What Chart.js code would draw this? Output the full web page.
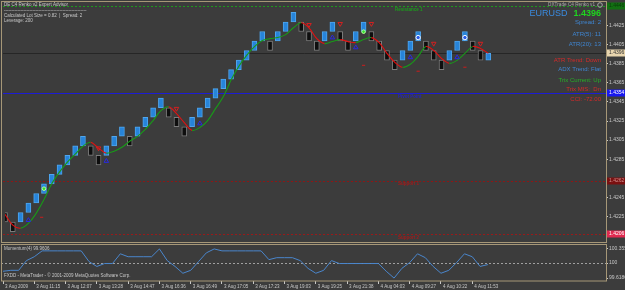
<!DOCTYPE html>
<html>
<head>
<meta charset="utf-8">
<title>EURUSD Renko</title>
<script src="https://cdn.jsdelivr.net/npm/chart.js@4.4.1/dist/chart.umd.min.js"></script>
<style>
  html, body { margin: 0; padding: 0; background: #3c3c3c; overflow: hidden; }
  #wrap { position: relative; width: 625px; height: 290px; }
  canvas { position: absolute; left: 0; }
  #priceChart { top: 0; }
  #momChart { top: 244px; }
</style>
</head>
<body>
<div id="wrap">
  <canvas id="priceChart" width="625" height="244"></canvas>
  <canvas id="momChart" width="625" height="46"></canvas>
</div>
<script>
// renko bricks (10 pip box)
const brickOpen = [1.4229, 1.4219, 1.4219, 1.4229, 1.4239, 1.4249, 1.4259, 1.4269, 1.4279, 1.4289,
  1.4299, 1.4299, 1.4289, 1.4289, 1.4299, 1.4309, 1.4309, 1.4309, 1.4319, 1.4329,
  1.4339, 1.4339, 1.4329, 1.4319, 1.4319, 1.4329, 1.4339, 1.4349, 1.4359, 1.4369,
  1.4379, 1.4389, 1.4399, 1.4409, 1.4409, 1.4409, 1.4419, 1.4429, 1.4429, 1.4419,
  1.4409, 1.4409, 1.4419, 1.4419, 1.4409, 1.4409, 1.4419, 1.4419, 1.4409, 1.4399,
  1.4389, 1.4389, 1.4399, 1.4409, 1.4409, 1.4399, 1.4389, 1.4389, 1.4399, 1.4409,
  1.4409, 1.4399, 1.4389];
const brickClose = [1.4219, 1.4209, 1.4229, 1.4239, 1.4249, 1.4259, 1.4269, 1.4279, 1.4289, 1.4299,
  1.4309, 1.4289, 1.4279, 1.4299, 1.4309, 1.4319, 1.4299, 1.4319, 1.4329, 1.4339,
  1.4349, 1.4329, 1.4319, 1.4309, 1.4329, 1.4339, 1.4349, 1.4359, 1.4369, 1.4379,
  1.4389, 1.4399, 1.4409, 1.4419, 1.4399, 1.4419, 1.4429, 1.4439, 1.4419, 1.4409,
  1.4399, 1.4419, 1.4429, 1.4409, 1.4399, 1.4419, 1.4429, 1.4409, 1.4399, 1.4389,
  1.4379, 1.4399, 1.4409, 1.4419, 1.4399, 1.4389, 1.4379, 1.4399, 1.4409, 1.4419,
  1.4399, 1.4389, 1.4396];
// trend line through the bricks (green up / red down)
const maLine = [1.42271, 1.42157, 1.42126, 1.42177, 1.42281, 1.42426, 1.42592, 1.42716, 1.42820, 1.42903,
  1.42986, 1.43027, 1.42965, 1.42913, 1.42934, 1.42975, 1.43038, 1.43089, 1.43162, 1.43255,
  1.43359, 1.43400, 1.43328, 1.43234, 1.43152, 1.43183, 1.43255, 1.43380, 1.43504, 1.43680,
  1.43825, 1.43939, 1.44032, 1.44095, 1.44115, 1.44126, 1.44157, 1.44229, 1.44281, 1.44229,
  1.44115, 1.44063, 1.44084, 1.44105, 1.44084, 1.44074, 1.44105, 1.44126, 1.44074, 1.43960,
  1.43867, 1.43815, 1.43846, 1.43929, 1.44032, 1.43991, 1.43908, 1.43856, 1.43887, 1.43960,
  1.44032, 1.44012, 1.43960];
// Momentum(4)
const momentum = [99.791, 99.815, 99.815, 100.061, 100.159, 100.307, 100.307, 100.307, 100.307, 100.307,
  100.307, 100.036, 99.913, 99.987, 99.987, 100.233, 100.159, 100.159, 100.159, 100.159,
  100.3558, 100.061, 99.913, 99.741, 99.815, 100.036, 100.257, 100.3558, 100.307, 100.307,
  100.307, 100.307, 100.307, 100.307, 100.085, 100.135, 100.135, 100.135, 100.061, 99.864,
  99.741, 99.815, 100.061, 99.987, 99.987, 99.987, 99.987, 99.987, 99.987, 99.791,
  99.6186, 99.864, 100.012, 100.233, 100.135, 99.913, 99.741, 99.815, 100.012, 100.233,
  100.159, 99.913, 99.9606];

const timeLabels = ['3 Aug 2009', '3 Aug 11:15', '3 Aug 12:07', '3 Aug 13:28', '3 Aug 14:47', '3 Aug 16:36',
  '3 Aug 16:49', '3 Aug 17:05', '3 Aug 17:23', '3 Aug 19:03', '3 Aug 19:25', '3 Aug 21:38',
  '4 Aug 04:03', '4 Aug 09:27', '4 Aug 10:22', '4 Aug 11:53'];
const priceTicks = [1.4425, 1.4405, 1.4385, 1.4365, 1.4345, 1.4325, 1.4305, 1.4285, 1.4245, 1.4225];
const momTicks = [100.3558, 100, 99.6186];
const momLevel = 100;

const levelNames = ['Resistance 1', 'Pivot Point', 'Support 1', 'Support 2'];
const levelValues = [1.4446, 1.4354, 1.4262, 1.4206];
const lastPrice = 1.4396;

// signal markers
const upArrowIdx = [3, 13, 25, 42, 45, 52, 58];
const upArrowPrice = [1.42209, 1.42830, 1.43224, 1.44126, 1.44022, 1.43918, 1.43918];
const downArrowIdx = [12, 22, 39, 43, 47, 55, 61];
const downArrowPrice = [1.42965, 1.43380, 1.44260, 1.44271, 1.44271, 1.44063, 1.44063];
const dotIdx = [5, 46];
const dotPrice = [1.42540, 1.44188];
const crossIdx = [53, 59];
const crossPrice = [1.44126, 1.44126];
const dashIdx = [4.7, 46, 53, 59];
const dashPrice = [1.42240, 1.43835, 1.43773, 1.43815];

const FONT = 'Liberation Sans';
const FRAME = '#a69777';
const TXT = '#c8c8c8';

const pts = (xs, ys) => xs.map((x, i) => ({ x: x, y: ys[i] }));

const levelStyle = [
  { line: '#1d9a1d', dash: [2, 2], text: '#1d9a1d', tag: '#127012', tagText: '#0b3a0b', dy: 4 },
  { line: '#1c1cd6', dash: [], text: '#2626b8', tag: '#1818f0', tagText: '#ffffff', dy: 3.5 },
  { line: '#8e1616', dash: [2, 2], text: '#a01c1c', tag: '#7a1010', tagText: '#d08c8c', dy: 3 },
  { line: '#9a1a1a', dash: [2, 2], text: '#a01c1c', tag: '#e02a50', tagText: '#ffffff', dy: 3 }
];

function tag(ctx, y, value, bg, fg) {
  ctx.fillStyle = bg;
  ctx.fillRect(607, Math.round(y) - 3.5, 18, 7);
  ctx.fillStyle = fg;
  ctx.font = '5px "' + FONT + '"';
  ctx.textAlign = 'left';
  ctx.textBaseline = 'middle';
  ctx.fillText(value.toFixed(4), 609, Math.round(y));
}

const priceOverlay = {
  id: 'priceOverlay',
  beforeDatasetsDraw(chart) {
    const { ctx, chartArea: a, scales: { y } } = chart;
    ctx.save();
    ctx.lineWidth = 1;
    // bid line
    let py = Math.round(y.getPixelForValue(lastPrice)) + 0.5;
    ctx.strokeStyle = '#262626';
    ctx.beginPath(); ctx.moveTo(a.left - 2, py); ctx.lineTo(a.right, py); ctx.stroke();
    levelValues.forEach((v, k) => {
      const s = levelStyle[k];
      py = Math.round(y.getPixelForValue(v)) + 0.5;
      ctx.strokeStyle = s.line;
      ctx.setLineDash(s.dash);
      ctx.beginPath(); ctx.moveTo(a.left - 2, py); ctx.lineTo(a.right, py); ctx.stroke();
    });
    ctx.setLineDash([]);
    ctx.font = 'bold 4.5px "' + FONT + '"';
    ctx.textAlign = 'left';
    ctx.textBaseline = 'middle';
    levelValues.forEach((v, k) => {
      const s = levelStyle[k];
      ctx.fillStyle = s.text;
      ctx.fillText(levelNames[k], k === 0 ? 395 : 398, y.getPixelForValue(v) + s.dy);
    });
    ctx.restore();
  },
  afterDraw(chart) {
    const { ctx, chartArea: a, scales: { y } } = chart;
    ctx.save();
    // frame
    ctx.strokeStyle = FRAME;
    ctx.lineWidth = 1;
    ctx.strokeRect(1.5, 1.5, a.right - 1, 241);

    // expert advisor comment, top left
    ctx.fillStyle = TXT;
    ctx.font = '4.5px "' + FONT + '"';
    ctx.textAlign = 'left';
    ctx.textBaseline = 'middle';
    ctx.fillText('DE C4 Renko v2 Expert Advisor', 4, 4.5);
    ctx.fillText('-------------------------------------------------------', 4, 10.5);
    ctx.fillText('Calculated Lot Size = 0.82  |  Spread: 2', 4, 15.7);
    ctx.fillText('Leverage: 200', 4, 21);

    // info panel, top right
    ctx.textAlign = 'right';
    ctx.fillStyle = '#a8a8a8';
    ctx.font = '4.7px "' + FONT + '"';
    ctx.fillText('DXTrade C4 Renko v1', 595, 5);
    ctx.strokeStyle = '#a8a8a8';
    ctx.beginPath(); ctx.arc(600, 5, 2.3, 0, Math.PI * 2); ctx.stroke();

    ctx.font = 'bold 9px "' + FONT + '"';
    const priceTxt = lastPrice.toFixed(4);
    ctx.fillStyle = '#1fd41f';
    ctx.fillText(priceTxt, 601, 13.5);
    const w = ctx.measureText(priceTxt).width;
    ctx.font = '9px "' + FONT + '"';
    ctx.fillStyle = '#3a8be0';
    ctx.fillText('EURUSD', 601 - w - 6, 13.5);

    const info = [
      ['Spread: 2', '#3f86d2', 22],
      ['ATR(5): 11', '#3f86d2', 34.3],
      ['ATR(20): 13', '#3f86d2', 44.3],
      ['ATR Trend: Down', '#d42a2a', 60],
      ['ADX Trend: Flat', '#3f86d2', 69.3],
      ['Trix Current: Up', '#26b026', 80],
      ['Trix MIS:  Dn', '#d42a2a', 89.3],
      ['CCI: -72.00', '#d42a2a', 99]
    ];
    ctx.font = '6px "' + FONT + '"';
    info.forEach(r => { ctx.fillStyle = r[1]; ctx.fillText(r[0], 601, r[2]); });

    // price tags on the axis
    levelValues.forEach((v, k) => {
      tag(ctx, y.getPixelForValue(v), v, levelStyle[k].tag, levelStyle[k].tagText);
    });
    tag(ctx, y.getPixelForValue(lastPrice), lastPrice, '#e8d5ae', '#333333');
    ctx.restore();
  }
};

new Chart(document.getElementById('priceChart'), {
  type: 'bar',
  data: {
    datasets: [
      {
        type: 'line', label: 'up', data: pts(upArrowIdx, upArrowPrice), showLine: false,
        pointStyle: 'triangle', pointRadius: 2.6, borderColor: '#2a2ae0', borderWidth: 1,
        backgroundColor: 'rgba(0,0,0,0)', order: 0
      },
      {
        type: 'line', label: 'down', data: pts(downArrowIdx, downArrowPrice), showLine: false,
        pointStyle: 'triangle', pointRotation: 180, pointRadius: 2.6, borderColor: '#d42020', borderWidth: 1,
        backgroundColor: 'rgba(0,0,0,0)', order: 0
      },
      {
        type: 'line', label: 'dot', data: pts(dotIdx, dotPrice), showLine: false,
        pointStyle: 'circle', pointRadius: 1.8, borderColor: '#b8ff9a', borderWidth: 1,
        backgroundColor: '#33dd33', order: 0
      },
      {
        type: 'line', label: 'cross', data: pts(crossIdx, crossPrice), showLine: false,
        pointStyle: 'circle', pointRadius: 2.2, borderColor: '#ffffff', borderWidth: 1,
        backgroundColor: '#2a5ee8', order: 0
      },
      {
        type: 'line', label: 'dash', data: pts(dashIdx, dashPrice), showLine: false,
        pointStyle: 'line', pointRadius: 1.6, borderColor: '#cc1c1c', borderWidth: 1, order: 0
      },
      {
        type: 'line', label: 'trend', data: maLine.map((v, i) => ({ x: i, y: v })),
        borderWidth: 1.1, pointRadius: 0, tension: 0.35,
        segment: { borderColor: c => c.p1.parsed.y < c.p0.parsed.y ? '#e41010' : '#189a18' },
        order: 1
      },
      {
        type: 'bar', label: 'bricks', data: brickOpen.map((o, i) => ({ x: i, y: [o, brickClose[i]] })),
        barThickness: 5, borderWidth: 1, borderSkipped: false,
        backgroundColor: c => brickClose[c.dataIndex] > brickOpen[c.dataIndex] ? '#2784da' : '#0e0e0e',
        borderColor: c => brickClose[c.dataIndex] > brickOpen[c.dataIndex] ? '#4fa6ee' : '#7c7c7c',
        order: 2
      }
    ]
  },
  options: {
    responsive: false,
    animation: false,
    devicePixelRatio: 1,
    layout: { padding: { left: 3, top: 4, right: 0, bottom: 3 } },
    plugins: { legend: { display: false }, tooltip: { enabled: false } },
    scales: {
      x: { type: 'linear', min: 0, max: 77.1, offset: false, display: false },
      y: {
        position: 'right', min: 1.42012, max: 1.44468,
        afterBuildTicks: s => { s.ticks = priceTicks.map(v => ({ value: v })); },
        afterFit: s => { s.width = 19; },
        ticks: { color: TXT, font: { family: FONT, size: 5 }, padding: 1, callback: v => v.toFixed(4) },
        grid: { drawOnChartArea: false, drawTicks: true, tickLength: 2, color: TXT },
        border: { display: false }
      }
    }
  },
  plugins: [priceOverlay]
});

const momOverlay = {
  id: 'momOverlay',
  beforeDatasetsDraw(chart) {
    const { ctx, chartArea: a, scales: { y } } = chart;
    ctx.save();
    const py = Math.round(y.getPixelForValue(momLevel)) + 0.5;
    ctx.strokeStyle = '#a0a0a0';
    ctx.lineWidth = 1;
    ctx.setLineDash([2, 2]);
    ctx.beginPath(); ctx.moveTo(a.left - 2, py); ctx.lineTo(a.right, py); ctx.stroke();
    ctx.restore();
  },
  afterDraw(chart) {
    const { ctx, chartArea: a } = chart;
    ctx.save();
    ctx.strokeStyle = FRAME;
    ctx.lineWidth = 1;
    ctx.strokeRect(1.5, 0.5, a.right - 1, a.bottom - 0.5);
    ctx.fillStyle = TXT;
    ctx.font = '4.5px "' + FONT + '"';
    ctx.textAlign = 'left';
    ctx.textBaseline = 'middle';
    ctx.fillText('Momentum(4) ' + momentum[momentum.length - 1], 4, 4.5);
    ctx.fillText('FXDD - MetaTrader - \u00a9 2001-2009 MetaQuotes Software Corp.', 4, 32);
    ctx.restore();
  }
};

new Chart(document.getElementById('momChart'), {
  type: 'line',
  data: {
    datasets: [{
      label: 'Momentum(4)', data: momentum.map((v, i) => ({ x: i, y: v })),
      borderColor: '#4a86cc', borderWidth: 1, pointRadius: 0, tension: 0
    }]
  },
  options: {
    responsive: false,
    animation: false,
    devicePixelRatio: 1,
    layout: { padding: { left: 3, top: 2, right: 0, bottom: 0 } },
    plugins: { legend: { display: false }, tooltip: { enabled: false } },
    scales: {
      x: {
        type: 'linear', min: 0, max: 77.1, offset: false,
        afterBuildTicks: s => { s.ticks = timeLabels.map((t, k) => ({ value: k * 4 })); },
        afterFit: s => { s.height = 9; },
        ticks: {
          color: TXT, font: { family: FONT, size: 4.5, lineHeight: 1 }, padding: 1,
          align: 'start', labelOffset: 2, maxRotation: 0, autoSkip: false,
          callback: (v, i) => timeLabels[i]
        },
        grid: { drawOnChartArea: false, drawTicks: true, tickLength: 3, color: TXT },
        border: { display: false }
      },
      y: {
        position: 'right', min: 99.545, max: 100.405,
        afterBuildTicks: s => { s.ticks = momTicks.map(v => ({ value: v })); },
        afterFit: s => { s.width = 19; },
        ticks: { color: TXT, font: { family: FONT, size: 5, lineHeight: 0.8 }, padding: 1, callback: v => String(v) },
        grid: { drawOnChartArea: false, drawTicks: true, tickLength: 2, color: TXT },
        border: { display: false }
      }
    }
  },
  plugins: [momOverlay]
});
</script>
</body>
</html>
